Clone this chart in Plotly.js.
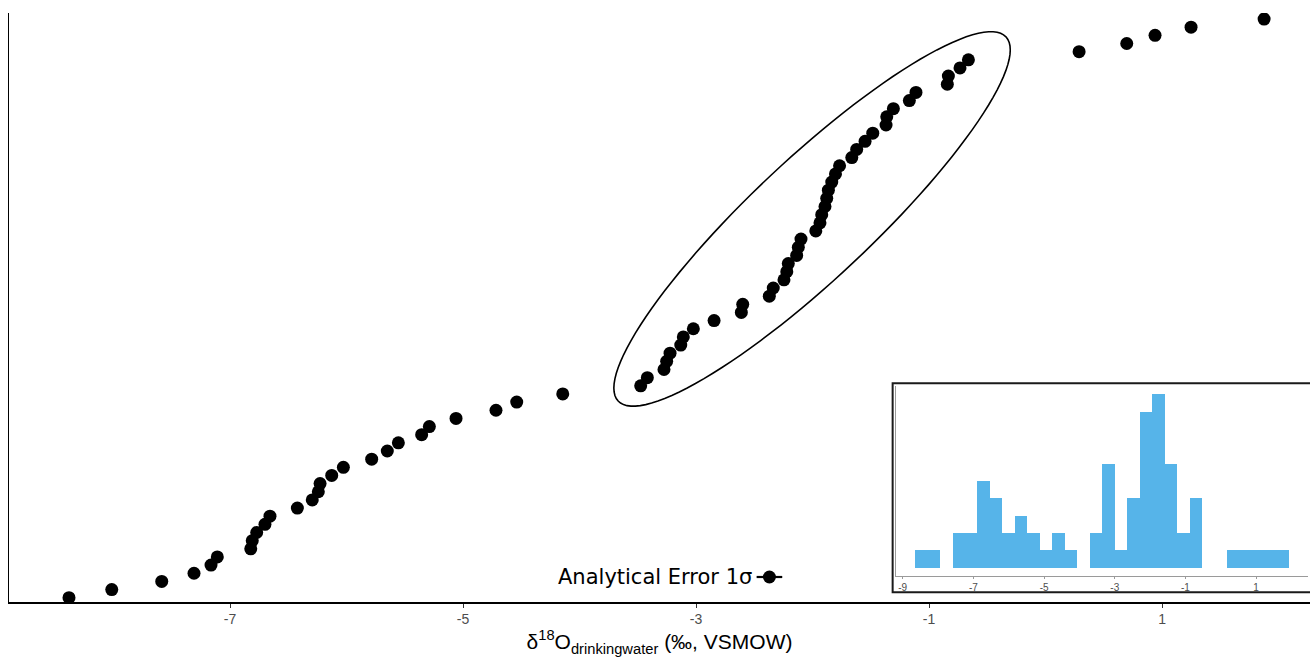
<!DOCTYPE html>
<html>
<head>
<meta charset="utf-8">
<script src="https://cdn.plot.ly/plotly-3.0.1.min.js"></script>
<style>
  html, body { margin: 0; padding: 0; background: #ffffff; }
  #chart { width: 1310px; height: 659px; }
</style>
</head>
<body>
<div id="chart"></div>
<script>
// ---- Data (sorted δ18O of drinking water, ‰ VSMOW) ----
const d18O = [
  -8.382, -8.015, -7.586, -7.309, -7.163, -7.109, -6.822, -6.809, -6.771, -6.700, -6.657,
  -6.422, -6.294, -6.242, -6.227, -6.127, -6.027, -5.784, -5.650, -5.555, -5.355, -5.289,
  -5.060, -4.717, -4.539, -4.144,
  -3.475, -3.418, -3.275, -3.252, -3.223, -3.131, -3.109, -3.023, -2.845, -2.611, -2.599,
  -2.371, -2.337, -2.245, -2.221, -2.208, -2.136, -2.122, -2.099, -1.972, -1.936, -1.921,
  -1.893, -1.878, -1.864, -1.835, -1.803, -1.768, -1.663, -1.621, -1.549, -1.483, -1.369,
  -1.363, -1.306, -1.169, -1.112, -0.843, -0.834, -0.734, -0.662,
  0.288, 0.697, 0.940, 1.249, 1.876
];
// cumulative rank of each sorted value (y position of the rank plot)
const rank = d18O.map((v, i) => i + 1);

// Inset histogram (counts per bin)
const histBinStart = -8.651;
const histBinWidth = 0.3531;
const histCounts = [1, 1, 0, 2, 2, 5, 4, 2, 3, 2, 1, 2, 1, 0, 2, 6, 1, 4, 9, 10, 6, 2, 4, 0, 0, 1, 1, 1, 1, 1];
const histCenters = histCounts.map((c, i) => histBinStart + (i + 0.5) * histBinWidth);

// Tick labels
const mainTickVals = [-7, -5, -3, -1, 1];
const mainTickText = ["-7", "-5", "-3", "-1", "1"];
const insetTickVals = [-9, -7, -5, -3, -1, 1];
const insetTickText = ["-9", "-7", "-5", "-3", "-1", "1"];

// Analytical error key
const analyticalError = 0.11;
const errorKeyX = [-2.37];
const errorKeyY = [3.54];

// ---- Layout geometry ----
const W = 1310, H = 659;
const M = { l: 9, r: 0, t: 13, b: 57 };
const xRange = [-8.897, 2.270];
const yRange = [0.472, 72.74];
const plotW = W - M.l - M.r, plotH = H - M.t - M.b;
const pxPerX = plotW / (xRange[1] - xRange[0]);
const pxPerY = plotH / (yRange[1] - yRange[0]);

// Ellipse around the central cluster (center in data units, semi-axes in px)
const ell = { cx: -2.004, cy: 47.47, a: 266, b: 60, angleDeg: 43.2 };
function ellipsePath(e) {
  const th = e.angleDeg * Math.PI / 180;
  let p = "";
  const N = 120;
  for (let k = 0; k <= N; k++) {
    const t = 2 * Math.PI * k / N;
    const dx = e.a * Math.cos(t) * Math.cos(th) - e.b * Math.sin(t) * Math.sin(th);
    const dy = e.a * Math.cos(t) * Math.sin(th) + e.b * Math.sin(t) * Math.cos(th);
    const x = e.cx + dx / pxPerX;
    const y = e.cy + dy / pxPerY;
    p += (k === 0 ? "M" : "L") + x.toFixed(4) + "," + y.toFixed(4);
  }
  return p + "Z";
}

const traces = [
  {
    type: "scatter", mode: "markers",
    x: d18O, y: rank,
    marker: { color: "#000000", size: 13 },
    xaxis: "x", yaxis: "y",
    hoverinfo: "x", showlegend: false
  },
  {
    type: "scatter", mode: "markers",
    x: errorKeyX, y: errorKeyY,
    marker: { color: "#000000", size: 13 },
    error_x: { type: "constant", value: analyticalError, color: "#000000", thickness: 2.2, width: 0 },
    xaxis: "x", yaxis: "y",
    hoverinfo: "skip", showlegend: false
  },
  {
    type: "bar",
    x: histCenters, y: histCounts,
    width: histBinWidth,
    marker: { color: "#56B4E9", line: { width: 0 } },
    xaxis: "x2", yaxis: "y2",
    showlegend: false
  }
];

const layout = {
  width: W, height: H,
  margin: M,
  paper_bgcolor: "#ffffff",
  plot_bgcolor: "#ffffff",
  showlegend: false,
  bargap: 0,
  font: { family: "Liberation Sans, Arial, sans-serif", color: "#000000" },
  xaxis: {
    range: xRange, autorange: false,
    domain: [0, 1],
    showgrid: false, zeroline: false,
    showline: true, linecolor: "#000000", linewidth: 1.5,
    ticks: "outside", ticklen: 4, tickwidth: 1, tickcolor: "#333333",
    tickvals: mainTickVals, ticktext: mainTickText,
    tickfont: { family: "Liberation Sans, Arial, sans-serif", size: 14, color: "#4d4d4d" },
    title: {
      text: "δ<sup>18</sup>O<sub>drinkingwater</sub> (‰, VSMOW)",
      font: { family: "Liberation Sans, Arial, sans-serif", size: 21, color: "#000000" },
      standoff: 8
    },
    automargin: false
  },
  yaxis: {
    range: yRange, autorange: false,
    domain: [0, 1],
    showgrid: false, zeroline: false,
    showline: true, linecolor: "#000000", linewidth: 1.5,
    showticklabels: false, ticks: "",
    automargin: false
  },
  xaxis2: {
    anchor: "y2",
    domain: [0.6818, 0.9985],
    range: [-9.19, 2.47], autorange: false,
    showgrid: false, zeroline: false,
    showline: true, linecolor: "#9a9a9a", linewidth: 1,
    ticks: "outside", ticklen: 2, tickwidth: 1, tickcolor: "#9a9a9a",
    tickvals: insetTickVals, ticktext: insetTickText,
    tickfont: { family: "Liberation Sans, Arial, sans-serif", size: 10, color: "#4d4d4d" },
    automargin: false
  },
  yaxis2: {
    anchor: "x2",
    domain: [0.0436, 0.3672],
    range: [-0.5, 10.5], autorange: false,
    showgrid: false, zeroline: false,
    showline: true, linecolor: "#9a9a9a", linewidth: 1,
    showticklabels: false, ticks: "",
    automargin: false
  },
  shapes: [
    {
      type: "path", xref: "x", yref: "y",
      path: ellipsePath(ell),
      line: { color: "#000000", width: 1.6 },
      fillcolor: "rgba(0,0,0,0)",
      layer: "above"
    },
    {
      type: "rect", xref: "paper", yref: "paper",
      x0: 0.6792, x1: 1.02, y0: 0.0165, y1: 0.3713,
      line: { color: "#1a1a1a", width: 2 },
      fillcolor: "rgba(0,0,0,0)",
      layer: "above"
    }
  ],
  annotations: [
    {
      xref: "x", yref: "y",
      x: -2.50, y: 3.54,
      xanchor: "right", yanchor: "middle",
      text: "Analytical Error 1σ",
      showarrow: false,
      font: { family: "DejaVu Sans, Verdana, sans-serif", size: 21, color: "#000000" }
    }
  ]
};

Plotly.newPlot("chart", traces, layout, { displayModeBar: false, staticPlot: true });
</script>
</body>
</html>
